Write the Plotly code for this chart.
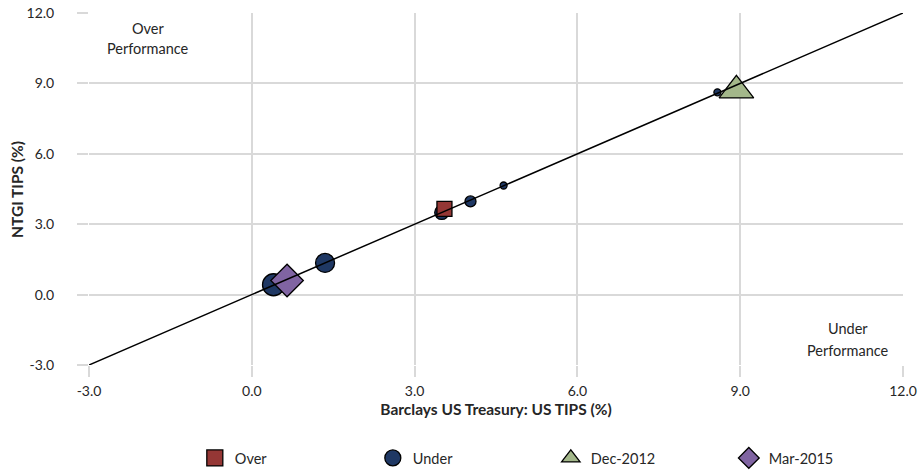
import plotly.graph_objects as go

# ---- data ----
under_x = [0.40, 1.35, 3.50, 4.03, 4.64, 8.58]
under_y = [0.42, 1.35, 3.50, 3.97, 4.65, 8.62]
under_size = [22, 19, 14, 11, 7, 7]

over_x = [3.55]
over_y = [3.65]

dec2012_x = [8.93]
dec2012_y = [8.70]

mar2015_x = [0.65]
mar2015_y = [0.60]

diag = [-3.0, 12.0]
tick_vals = [-3.0, 0.0, 3.0, 6.0, 9.0, 12.0]
tick_text = ["-3.0", "0.0", "3.0", "6.0", "9.0", "12.0"]

FONT = "Lato"
GRID = "#D9D9D9"
TXT = "#262626"
MLINE = dict(color="black", width=1.3)

fig = go.Figure()

# data marks (no legend)
fig.add_trace(go.Scatter(x=under_x, y=under_y, mode="markers", showlegend=False,
                         marker=dict(symbol="circle", size=under_size, color="#1F3864",
                                     opacity=1, line=MLINE)))
fig.add_trace(go.Scatter(x=over_x, y=over_y, mode="markers", showlegend=False,
                         marker=dict(symbol="square", size=15, color="#953735",
                                     opacity=1, line=MLINE)))
fig.add_trace(go.Scatter(x=dec2012_x, y=dec2012_y, mode="markers", showlegend=False,
                         marker=dict(symbol="triangle-up", size=30, color="#A3B78A",
                                     opacity=1, line=MLINE)))
fig.add_trace(go.Scatter(x=mar2015_x, y=mar2015_y, mode="markers", showlegend=False,
                         marker=dict(symbol="diamond", size=25, color="#8064A2",
                                     opacity=1, line=MLINE)))
# diagonal y = x
fig.add_trace(go.Scatter(x=diag, y=diag, mode="lines", showlegend=False,
                         line=dict(color="black", width=1.5), hoverinfo="skip"))

# legend entries
legend_items = [("Over", "square", "#953735"), ("Under", "circle", "#1F3864"),
                ("Dec-2012", "triangle-up", "#A3B78A"), ("Mar-2015", "diamond", "#8064A2")]
for name, sym, col in legend_items:
    fig.add_trace(go.Scatter(x=[None], y=[None], mode="markers", name=name,
                             marker=dict(symbol=sym, size=22, color=col, opacity=1,
                                         line=MLINE)))

ann_font = dict(family=FONT, size=14.5, color=TXT)
for txt, ax, ay in [("Over", -1.91, 11.36), ("Performance", -1.91, 10.50),
                    ("Under", 10.99, -1.46), ("Performance", 10.99, -2.40)]:
    fig.add_annotation(x=ax, y=ay, xref="x", yref="y", text=txt, showarrow=False,
                       font=ann_font, xanchor="center", yanchor="middle")

title_font = dict(family=FONT, size=15.5, color=TXT)

# y-axis title placed as rotated text left of the tick labels
fig.add_annotation(x=-0.0885, y=0.5, xref="paper", yref="paper",
                   text="<b>NTGI TIPS (%)</b>", textangle=-90, showarrow=False,
                   font=title_font, xanchor="center", yanchor="middle")

axis_common = dict(range=[-3, 12], tickvals=tick_vals, ticktext=tick_text,
                   showgrid=True, gridcolor=GRID, gridwidth=1.5,
                   ticks="outside", ticklen=11, tickcolor=GRID, tickwidth=1.5,
                   zeroline=False, showline=False, automargin=False,
                   ticklabeloverflow="allow",
                   tickfont=dict(family=FONT, size=14, color=TXT),
                   fixedrange=True)

fig.update_layout(
    width=920, height=475,
    margin=dict(l=89, r=17, t=13, b=110, autoexpand=False),
    paper_bgcolor="white", plot_bgcolor="white",
    font=dict(family=FONT, size=14, color=TXT),
    xaxis=dict(**axis_common, ticklabelstandoff=2,
               title=dict(text="<b>Barclays US Treasury: US TIPS (%)</b>", standoff=6,
                          font=title_font)),
    yaxis=dict(**axis_common, ticklabelstandoff=20),
    legend=dict(orientation="h", x=0.13, xanchor="left",
                yref="container", y=1 - 458 / 475, yanchor="middle",
                entrywidth=133, font=dict(family=FONT, size=14.5, color=TXT),
                itemsizing="trace"),
    showlegend=True,
)

# remove the default page margin so the figure fills the window exactly
fig.write_html("out.html", config={"displayModeBar": False},
               post_script="document.body.style.margin='0';")
